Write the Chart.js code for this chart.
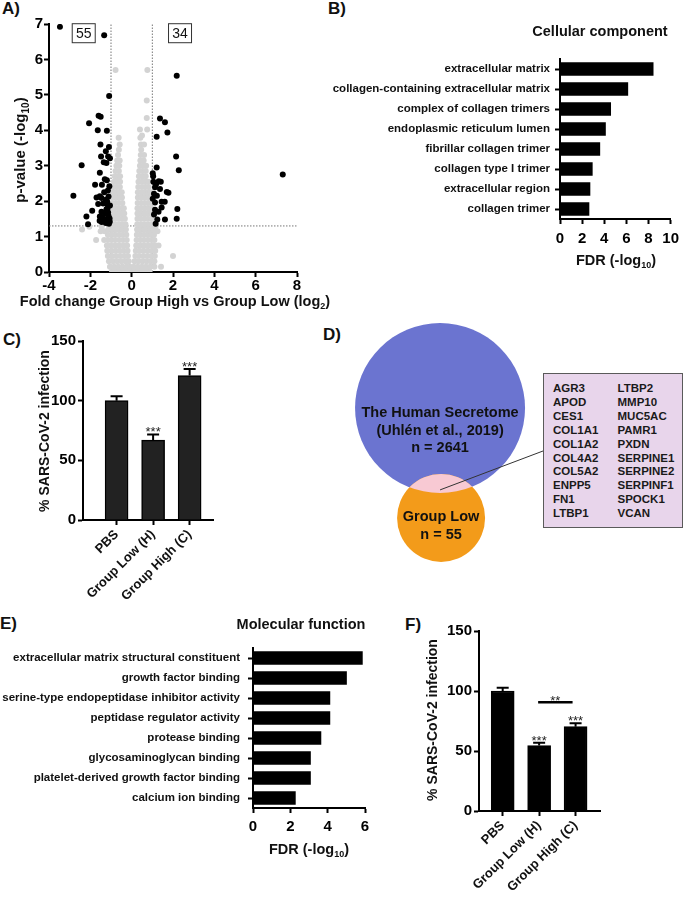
<!DOCTYPE html>
<html lang="en">
  <head>
    <meta charset="UTF-8" />
    <title>Secretome figure</title>
    <style>
      body { margin: 0; background: #fff; font-family: "Liberation Sans", Arial, sans-serif; }
      canvas { position: absolute; }
      .letter { position: absolute; font-weight: bold; font-size: 17px; line-height: 1; color: #111; }
      #genes {
        position: absolute; left: 543px; top: 373px; width: 140px; height: 155px;
        box-sizing: border-box; background: #e8d5eb; border: 1px solid #5a5a5a;
        display: flex; padding: 8px 0 0 9px;
        font: bold 11.5px "Liberation Sans", Arial, sans-serif; line-height: 13.9px; color: #1a1a1a;
        z-index: 2;
      }
      #genes .gcol { width: 69px; }
    </style>
  </head>
  <body>
    <div class="letter" style="left:2px;top:0px">A)</div>
    <div class="letter" style="left:328px;top:0px">B)</div>
    <div class="letter" style="left:3px;top:331px">C)</div>
    <div class="letter" style="left:323px;top:326px">D)</div>
    <div class="letter" style="left:0px;top:615px">E)</div>
    <div class="letter" style="left:405px;top:616px">F)</div>

    <canvas id="volcano" width="340" height="315" style="left:0;top:0"></canvas>
    <canvas id="cellComp" width="365" height="300" style="left:320px;top:0"></canvas>
    <canvas id="infC" width="240" height="300" style="left:0;top:320px"></canvas>
    <canvas id="venn" width="345" height="270" style="left:340px;top:300px"></canvas>
    <div id="genes"></div>
    <canvas id="molFunc" width="400" height="280" style="left:0;top:600px"></canvas>
    <canvas id="infF" width="285" height="299" style="left:400px;top:600px"></canvas>

    <script src="https://cdn.jsdelivr.net/npm/chart.js"></script>
    <script>
      //! data
      const foldCut = 1;
      const pCut = 1.3;
      const volcanoCounts = ["55", "34"];
      // significant proteins (black)
      const volcanoSig = [
        [-3.47, 6.92], [-1.33, 6.68], [-1.09, 4.97], [-2.06, 4.2], [-1.6, 4.41], [-1.5, 4.38],
        [-1.64, 4.0], [-1.2, 3.99], [-1.51, 3.6], [-1.1, 3.53], [-2.42, 3.01], [-1.25, 3.41],
        [-1.48, 3.26], [-1.14, 3.26], [-1.05, 3.21], [-1.22, 3.08], [-1.54, 2.8], [-1.2, 2.59],
        [-1.44, 2.46], [-1.77, 2.46], [-2.82, 2.15], [-1.33, 2.25], [-1.54, 2.14], [-1.46, 2.09],
        [-1.25, 2.04], [-1.19, 2.0], [-1.91, 1.73], [-1.46, 1.7], [-1.17, 1.79], [-2.19, 1.57],
        [-1.54, 1.57], [-1.28, 1.65], [-1.12, 1.58], [-1.33, 1.48], [-1.2, 1.48], [-1.07, 1.51],
        [-2.11, 1.35], [-1.55, 1.45], [-1.45, 1.41], [-1.1, 1.36], [-1.14, 1.68], [-1.22, 1.77],
        [-1.38, 1.93], [-1.12, 2.13], [-1.3, 2.62], [-1.08, 2.42], [-1.62, 1.92], [-1.05, 1.88],
        [-1.25, 1.38], [-1.4, 1.55], [-1.15, 2.3], [-1.7, 2.1], [-1.06, 1.42], [-1.35, 3.1], [-1.18, 1.92],
        [2.18, 5.54], [1.37, 4.33], [1.61, 4.23], [1.73, 3.94], [1.21, 3.82], [2.15, 3.26],
        [2.28, 2.87], [7.31, 2.75], [1.21, 2.95], [1.02, 2.79], [1.31, 2.56], [1.41, 2.55],
        [1.37, 2.34], [1.13, 2.39], [1.08, 2.21], [1.7, 2.26], [1.78, 2.24], [1.02, 2.07],
        [1.13, 1.96], [1.45, 1.98], [1.6, 1.98], [1.45, 1.82], [1.13, 1.76], [2.21, 1.78],
        [1.24, 1.48], [2.18, 1.5], [1.61, 1.48], [1.16, 1.36], [1.05, 2.55], [1.22, 2.15],
        [1.08, 1.62], [1.3, 1.7], [1.04, 2.7], [1.18, 2.48],
      ];
      // non-significant proteins (grey), read off the cloud row by row: [p-value, fold changes]
      const volcanoBgRows = [
        [0.03, [-0.95, -0.75, -0.55, -0.35, -0.15, 0.05, 0.25, 0.45, 0.65, 0.85]],
        [0.15, [-1.05, -0.85, -0.65, -0.45, -0.25, -0.08, 0.1, 0.3, 0.5, 0.7, 0.9, 1.1, 1.42]],
        [0.3, [-1.1, -0.9, -0.7, -0.5, -0.3, -0.14, 0.14, 0.32, 0.52, 0.72, 0.92, 1.1]],
        [0.45, [-1.15, -0.95, -0.75, -0.55, -0.35, -0.18, 0.18, 0.36, 0.56, 0.76, 0.96, 1.12, 2.0]],
        [0.6, [-1.18, -0.98, -0.78, -0.58, -0.38, -0.2, 0.2, 0.38, 0.58, 0.78, 0.98, 1.14]],
        [0.75, [-1.2, -1.0, -0.8, -0.6, -0.4, -0.22, 0.22, 0.4, 0.6, 0.8, 1.0, 1.15, 1.3]],
        [0.9, [-1.72, -1.33, -1.15, -0.97, -0.79, -0.6, -0.42, -0.24, 0.24, 0.42, 0.6, 0.78, 0.96, 1.1]],
        [1.05, [-1.15, -0.97, -0.79, -0.6, -0.42, -0.26, 0.25, 0.42, 0.6, 0.78, 0.94, 1.08]],
        [1.15, [-1.5, -1.3, 1.25]],
        [1.2, [-2.4, -1.12, -0.95, -0.78, -0.6, -0.43, -0.28, 0.26, 0.43, 0.6, 0.77, 0.92, 1.05]],
        [1.28, [-2.05, -1.45, 1.15]],
        [1.35, [-0.97, -0.8, -0.63, -0.46, -0.3, 0.27, 0.44, 0.61, 0.78, 0.95]],
        [1.5, [-0.97, -0.8, -0.63, -0.47, -0.33, 0.28, 0.45, 0.62, 0.79, 0.96]],
        [1.65, [-0.97, -0.8, -0.63, -0.46, -0.36, 0.28, 0.45, 0.62, 0.79, 0.95]],
        [1.8, [-0.96, -0.8, -0.63, -0.47, -0.38, 0.28, 0.45, 0.62, 0.79, 0.95]],
        [1.95, [-0.95, -0.78, -0.62, -0.45, 0.29, 0.46, 0.63, 0.8, 0.95]],
        [2.1, [-0.93, -0.76, -0.6, -0.47, 0.3, 0.47, 0.64, 0.8, 0.94]],
        [2.25, [-0.9, -0.74, -0.58, -0.48, 0.3, 0.47, 0.64, 0.8, 0.92]],
        [2.4, [-0.88, -0.72, -0.57, 0.32, 0.5, 0.66, 0.82]],
        [2.55, [-0.85, -0.7, -0.56, 0.33, 0.5, 0.66, 0.8]],
        [2.7, [-0.82, -0.67, -0.56, 0.35, 0.52, 0.68]],
        [2.85, [-0.78, -0.62, 0.37, 0.53, 0.68]],
        [3.0, [-0.74, -0.6, 0.4, 0.56, 0.7]],
        [3.15, [-0.7, -0.58, 0.42, 0.58]],
        [3.3, [-0.66, 0.44, 0.6]],
        [3.45, [-0.62, 0.46]],
        [3.6, [-0.58, 0.45, 0.6]],
        [3.79, [-0.63, 0.42]],
        [3.85, [0.5]],
        [4.02, [0.4, 0.75]],
        [4.35, [0.73]],
        [4.84, [0.73]],
        [5.7, [-0.78, 0.76]],
      ];

      const ccTerms = [
        "extracellular matrix", "collagen-containing extracellular matrix", "complex of collagen trimers",
        "endoplasmic reticulum lumen", "fibrillar collagen trimer", "collagen type I trimer",
        "extracellular region", "collagen trimer",
      ];
      const ccFdr = [8.42, 6.13, 4.58, 4.11, 3.6, 2.92, 2.71, 2.62];

      const mfTerms = [
        "extracellular matrix structural constituent", "growth factor binding",
        "serine-type endopeptidase inhibitor activity", "peptidase regulator activity",
        "protease binding", "glycosaminoglycan binding", "platelet-derived growth factor binding",
        "calcium ion binding",
      ];
      const mfFdr = [5.86, 5.01, 4.12, 4.12, 3.64, 3.08, 3.08, 2.27];

      const infLabels = ["PBS", "Group Low (H)", "Group High (C)"];
      const infCVal = [100, 67, 121];
      const infCErr = [3.8, 4.7, 5.6];
      const infCStars = ["", "***", "***"];
      const infFVal = [100, 54.5, 70.3];
      const infFErr = [2.7, 2.4, 2.8];
      const infFStars = ["", "***", "***"];
      const infFPair = [1, 2, 90.6, "**"];

      const vennText = [
        ["The Human Secretome", "(Uhlén et al., 2019)", "n = 2641"],
        ["Group Low", "n = 55"],
      ];
      const vennCircles = [
        { x: 29.0, y: 60.0, r: 85 },
        { x: 29.3, y: 19.3, r: 44 },
      ];
      const geneColA = ["AGR3", "APOD", "CES1", "COL1A1", "COL1A2", "COL4A2", "COL5A2", "ENPP5", "FN1", "LTBP1"];
      const geneColB = ["LTBP2", "MMP10", "MUC5AC", "PAMR1", "PXDN", "SERPINE1", "SERPINE2", "SERPINF1", "SPOCK1", "VCAN"];

      //! helpers
      const FONT = '"Liberation Sans", Arial, sans-serif';
      Chart.defaults.font.family = FONT;
      Chart.defaults.color = "#000";
      Chart.defaults.animation = false;
      Chart.defaults.responsive = false;
      Chart.defaults.plugins.legend.display = false;
      Chart.defaults.plugins.tooltip.enabled = false;

      const GRID = { drawOnChartArea: false, tickLength: 5, tickWidth: 2, tickColor: "#000", offset: false };
      const BORDER = { color: "#000", width: 2 };
      const tickFont = { size: 15, weight: "bold" };

      function drawText(ctx, parts, x, y, size, rot, weight) {
        if (typeof parts === "string") parts = [[parts]];
        weight = weight || "bold";
        const main = weight + " " + size + "px " + FONT;
        const sub = weight + " " + Math.round(size * 0.65) + "px " + FONT;
        ctx.save();
        ctx.translate(x, y);
        ctx.rotate(rot || 0);
        let w = 0;
        for (const [s, isSub] of parts) {
          ctx.font = isSub ? sub : main;
          w += ctx.measureText(s).width;
        }
        let cx = -w / 2;
        ctx.fillStyle = "#111";
        ctx.textBaseline = "middle";
        ctx.textAlign = "left";
        for (const [s, isSub] of parts) {
          ctx.font = isSub ? sub : main;
          ctx.fillText(s, cx, isSub ? size * 0.32 : 0);
          cx += ctx.measureText(s).width;
        }
        ctx.restore();
      }

      //! A) volcano
      const volcanoBg = [];
      volcanoBgRows.forEach(([p, fcs]) => fcs.forEach((fc) => volcanoBg.push([fc, p])));

      new Chart(document.getElementById("volcano"), {
        type: "scatter",
        data: {
          datasets: [
            { data: volcanoSig, backgroundColor: "#000", pointRadius: 3, borderWidth: 0, order: 0 },
            { data: volcanoBg, backgroundColor: "#d3d3d3", pointRadius: 3, borderWidth: 0, order: 1 },
          ],
        },
        options: {
          layout: { padding: { left: 0, right: 43, top: 24, bottom: 5 } },
          scales: {
            x: {
              type: "linear", min: -4, max: 8,
              ticks: { stepSize: 2, font: tickFont, padding: 0, maxRotation: 0, autoSkip: false },
              grid: GRID, border: BORDER,
              afterFit: (s) => { s.height = 38; },
            },
            y: {
              type: "linear", min: 0, max: 7,
              ticks: { stepSize: 1, font: tickFont, padding: 1 },
              grid: GRID, border: BORDER,
              afterFit: (s) => { s.width = 49; },
            },
          },
        },
        plugins: [{
          id: "volcanoExtras",
          beforeDatasetsDraw(chart) {
            const { ctx, scales: { x, y } } = chart;
            ctx.save();
            ctx.strokeStyle = "#777";
            ctx.lineWidth = 1;
            ctx.setLineDash([1.5, 1.5]);
            ctx.beginPath();
            for (const v of [-foldCut, foldCut]) {
              ctx.moveTo(x.getPixelForValue(v), y.getPixelForValue(0));
              ctx.lineTo(x.getPixelForValue(v), y.getPixelForValue(7));
            }
            ctx.moveTo(x.getPixelForValue(-4), y.getPixelForValue(pCut));
            ctx.lineTo(x.getPixelForValue(8), y.getPixelForValue(pCut));
            ctx.stroke();
            ctx.restore();
          },
          afterDraw(chart) {
            const { ctx, scales: { x, y } } = chart;
            [-2.32, 2.34].forEach((v, i) => {
              const px = x.getPixelForValue(v), py = y.getPixelForValue(6.74);
              ctx.save();
              ctx.fillStyle = "#fff";
              ctx.strokeStyle = "#333";
              ctx.lineWidth = 1;
              ctx.fillRect(px - 11, py - 9, 22, 18);
              ctx.strokeRect(px - 11.5, py - 9.5, 23, 19);
              ctx.restore();
              drawText(ctx, volcanoCounts[i], px, py + 0.5, 14, 0, "normal");
            });
            drawText(ctx, [["Fold change Group High vs Group Low (log"], ["2", true], [")"]], 175, 302, 14.5);
            drawText(ctx, [["p-value (-log"], ["10", true], [")"]], 21, 150, 15, -Math.PI / 2);
          },
        }],
      });

      //! B) / E) horizontal GO bars
      function goChart(id, terms, vals, max, fit, titleText, titlePos, fdrPos, labelPad, tickPad) {
        return new Chart(document.getElementById(id), {
          type: "bar",
          data: {
            labels: terms,
            datasets: [{ data: vals, backgroundColor: "#000", barThickness: 13 }],
          },
          options: {
            indexAxis: "y",
            layout: { padding: fit.padding },
            scales: {
              x: {
                type: "linear", min: 0, max: max,
                ticks: { stepSize: 2, font: tickFont, padding: tickPad, minRotation: 0, maxRotation: 0, autoSkip: false },
                grid: GRID, border: BORDER,
                afterFit: (s) => { s.height = 30; },
              },
              y: {
                type: "category", offset: true,
                ticks: { font: { size: 11.5, weight: "bold" }, padding: labelPad, autoSkip: false, color: "#111" },
                grid: GRID, border: BORDER,
                afterFit: (s) => { s.width = fit.yWidth; },
              },
            },
          },
          plugins: [{
            id: "goTitles",
            afterDraw(chart) {
              drawText(chart.ctx, titleText, titlePos[0], titlePos[1], 14.5);
              drawText(chart.ctx, [["FDR (-log"], ["10", true], [")"]], fdrPos[0], fdrPos[1], 14.5);
            },
          }],
        });
      }
      goChart("cellComp", ccTerms, ccFdr, 10,
        { yWidth: 240, padding: { left: 0, right: 12, top: 59, bottom: 51 } },
        "Cellular component", [280, 32], [296, 261], 5, 6);
      goChart("molFunc", mfTerms, mfFdr, 6,
        { yWidth: 253, padding: { left: 0, right: 35, top: 48, bottom: 42 } },
        "Molecular function", [301, 25], [309, 250], 8, 5);

      //! C) / F) infection bars
      function infChart(id, vals, errs, stars, pair, fill, box, xRange, titlePos) {
        return new Chart(document.getElementById(id), {
          type: "bar",
          data: {
            datasets: [{
              data: vals.map((v, i) => ({ x: i, y: v })),
              backgroundColor: fill, borderColor: "#000", borderWidth: 1.5,
              barThickness: 23,
            }],
          },
          options: {
            layout: { padding: box.padding },
            scales: {
              x: {
                type: "linear", min: xRange[0], max: xRange[1], offset: false,
                afterBuildTicks: (s) => { s.ticks = infLabels.map((_, i) => ({ value: i })); },
                ticks: {
                  callback: (v) => infLabels[v], autoSkip: false,
                  minRotation: 45, maxRotation: 45,
                  font: { size: 13, weight: "bold" }, padding: 2, color: "#111",
                },
                grid: GRID, border: BORDER,
                afterFit: (s) => { s.height = box.xHeight; },
              },
              y: {
                type: "linear", min: 0, max: 150,
                ticks: { stepSize: 50, font: tickFont, padding: 2 },
                grid: GRID, border: BORDER,
                afterFit: (s) => { s.width = box.yWidth; },
              },
            },
          },
          plugins: [{
            id: "errBars",
            afterDatasetsDraw(chart) {
              const { ctx } = chart;
              const ys = chart.scales.y;
              const bars = chart.getDatasetMeta(0).data;
              ctx.save();
              ctx.strokeStyle = "#000";
              ctx.lineWidth = 2;
              bars.forEach((bar, i) => {
                const top = ys.getPixelForValue(vals[i]);
                const e = ys.getPixelForValue(vals[i] + errs[i]);
                ctx.beginPath();
                ctx.moveTo(bar.x, top);
                ctx.lineTo(bar.x, e);
                ctx.moveTo(bar.x - 6, e);
                ctx.lineTo(bar.x + 6, e);
                ctx.stroke();
                if (stars[i]) {
                  ctx.fillStyle = "#222";
                  ctx.font = "13px " + FONT;
                  ctx.textAlign = "center";
                  ctx.textBaseline = "alphabetic";
                  ctx.fillText(stars[i], bar.x, e + 2);
                }
              });
              if (pair) {
                const yp = ys.getPixelForValue(pair[2]);
                ctx.lineWidth = 2.5;
                ctx.beginPath();
                ctx.moveTo(bars[pair[0]].x - 1, yp);
                ctx.lineTo(bars[pair[1]].x - 3, yp);
                ctx.stroke();
                ctx.fillStyle = "#222";
                ctx.font = "13px " + FONT;
                ctx.textAlign = "center";
                ctx.fillText(pair[3], (bars[pair[0]].x + bars[pair[1]].x) / 2 - 2, yp + 3);
              }
              ctx.restore();
            },
            afterDraw(chart) {
              drawText(chart.ctx, "% SARS-CoV-2 infection", titlePos[0], titlePos[1], 14, -Math.PI / 2);
            },
          }],
        });
      }
      infChart("infC", infCVal, infCErr, infCStars, null, "#222",
        { yWidth: 83, xHeight: 100, padding: { left: 0, right: 27, top: 21, bottom: 0 } },
        [-0.92, 2.64], [45, 111]);
      infChart("infF", infFVal, infFErr, infFStars, infFPair, "#000",
        { yWidth: 79, xHeight: 88, padding: { left: 0, right: 85, top: 31, bottom: 0 } },
        [-0.65, 2.67], [33, 120]);

      //! D) venn
      new Chart(document.getElementById("venn"), {
        type: "bubble",
        data: {
          datasets: [
            { data: [vennCircles[0]], backgroundColor: "#6b74d0", borderWidth: 0, order: 2, clip: false },
            { data: [vennCircles[1]], backgroundColor: "#f39b1a", borderWidth: 0, order: 1, clip: false },
          ],
        },
        options: {
          layout: { padding: 0, autoPadding: false },
          scales: {
            x: { display: false, min: 0, max: 100 },
            y: { display: false, min: 0, max: 100 },
          },
        },
        plugins: [{
          id: "vennExtras",
          afterDatasetsDraw(chart) {
            const { ctx } = chart;
            const big = chart.getDatasetMeta(0).data[0];
            const small = chart.getDatasetMeta(1).data[0];
            const rBig = big.options.radius, rSmall = small.options.radius;
            ctx.save();
            ctx.beginPath();
            ctx.arc(small.x, small.y, rSmall, 0, Math.PI * 2);
            ctx.clip();
            ctx.beginPath();
            ctx.arc(big.x, big.y, rBig, 0, Math.PI * 2);
            ctx.fillStyle = "#f8c9d3";
            ctx.fill();
            ctx.restore();

            vennText[0].forEach((t, i) => drawText(ctx, t, big.x, big.y + 5 + i * 17.5, 14.5));
            vennText[1].forEach((t, i) => drawText(ctx, t, small.x, small.y - 1 + i * 18, 14.5));

            ctx.save();
            ctx.strokeStyle = "#333";
            ctx.lineWidth = 1;
            ctx.beginPath();
            ctx.moveTo(small.x - 1, small.y - 28);
            ctx.lineTo(203, 151);
            ctx.stroke();
            ctx.restore();
          },
        }],
      });

      const genes = document.getElementById("genes");
      for (const col of [geneColA, geneColB]) {
        const d = document.createElement("div");
        d.className = "gcol";
        d.innerHTML = col.join("<br>");
        genes.appendChild(d);
      }
    </script>
  </body>
</html>
